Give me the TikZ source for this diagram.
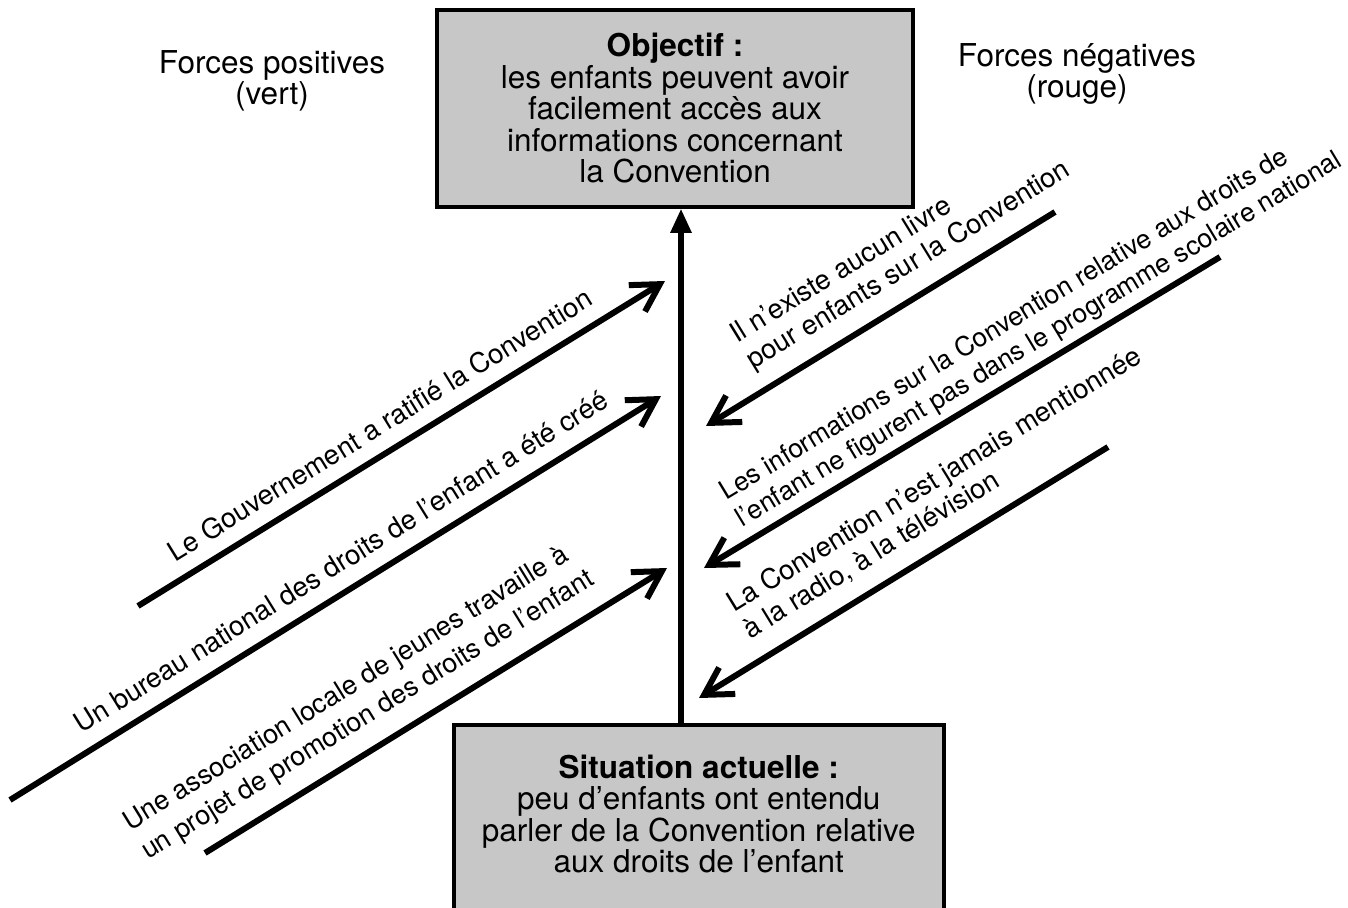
\documentclass[tikz,border=0pt]{standalone}
\usepackage{fontspec}
\setmainfont{TeX Gyre Heros}
\usetikzlibrary{arrows.meta,calc}
\begin{document}
\begin{tikzpicture}[x=1pt,y=-1pt,
  box/.style={draw=black, line width=3.5pt, fill=black!22, align=center, inner sep=0pt,
    font=\fontsize{31.5}{31.5}\selectfont},
  force/.style={line width=6pt, line join=miter, -{Straight Barb[length=27pt,width=31pt]}},
  lbl/.style={rotate=#1, anchor=south west, inner sep=0pt, outer sep=0pt, align=left,
    font=\fontsize{27.5}{31}\selectfont},
  head/.style={align=center, inner sep=0pt, anchor=south, font=\fontsize{31.5}{31}\selectfont}
]
\fill[white] (0,0) rectangle (1348,907);
\useasboundingbox (0,0) rectangle (1348,907);

% boxes
\node[box, minimum width=476pt, minimum height=197pt] (obj) at (675,108.5)
  {\textbf{Objectif :}\\les enfants peuvent avoir\\facilement accès aux\\informations concernant\\la Convention};
\node[box, minimum width=490pt, anchor=north west, inner ysep=30pt, text depth=150pt] (sit) at (452,723)
  {\textbf{Situation actuelle :}\\peu d’enfants ont entendu\\parler de la Convention relative\\aux droits de l’enfant};

% headings
\node[head] (pos) at (272,111) {Forces positives\\(vert)};
\node[head] (neg) at (1077,105) {Forces négatives\\(rouge)};

% main vertical arrow
\coordinate (vx) at (681,0);
\draw[line width=5.5pt, -{Triangle[length=24pt,width=20pt]}] (sit.north -| vx) -- (obj.south -| vx);

% positive forces
\coordinate (A1s) at (138,606); \coordinate (A1e) at (665,281);
\coordinate (A2s) at (10,800);  \coordinate (A2e) at (661,396);
\coordinate (A3s) at (205,853); \coordinate (A3e) at (667,568);
\draw[force] (A1s) -- (A1e);
\draw[force] (A2s) -- (A2e);
\draw[force] (A3s) -- (A3e);
\node[lbl=31.66] (L1) at ($(A1s)!55pt!(A1e)!17pt!90:(A1e)$) {Le Gouvernement a ratifié la Convention};
\node[lbl=31.82] (L2) at ($(A2s)!96pt!(A2e)!18pt!90:(A2e)$) {Un bureau national des droits de l’enfant a été créé};
\node[lbl=31.67, font=\fontsize{27}{34}\selectfont] (L3) at ($(A3s)!-52pt!(A3e)!18pt!90:(A3e)$)
  {Une association locale de jeunes travaille à\\un projet de promotion des droits de l’enfant};

% negative forces
\coordinate (B1s) at (1055,212); \coordinate (B1e) at (706,426);
\coordinate (B2s) at (1220,257); \coordinate (B2e) at (704,568);
\coordinate (B3s) at (1108,447); \coordinate (B3e) at (699,698);
\draw[force] (B1s) -- (B1e);
\draw[force] (B2s) -- (B2e);
\draw[force] (B3s) -- (B3e);
\node[lbl=31.51] (L4) at ($(B1e)!70pt!(B1s)!17pt!90:(B1s)$) {Il n’existe aucun livre\\pour enfants sur la Convention};
\node[lbl=31.08, font=\fontsize{26.5}{31}\selectfont] (L5) at ($(B2e)!54pt!(B2s)!9pt!90:(B2s)$)
  {Les informations sur la Convention relative aux droits de\\l’enfant ne figurent pas dans le programme scolaire national};
\node[lbl=31.53] (L6) at ($(B3e)!75pt!(B3s)!19pt!90:(B3s)$) {La Convention n’est jamais mentionnée\\à la radio, à la télévision};
\end{tikzpicture}
\end{document}
